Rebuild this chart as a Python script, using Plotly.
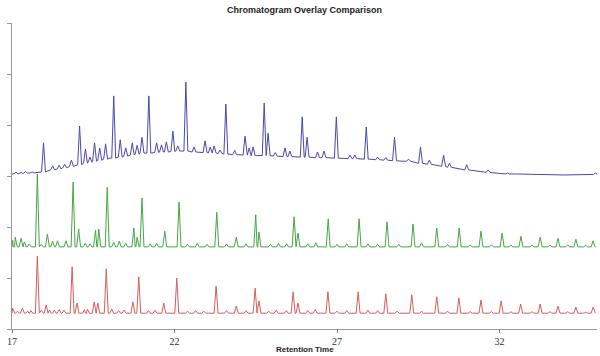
import plotly.graph_objects as go

# ---------------- data ----------------
x_range = [17, 35]
x_ticks = [17, 22, 27, 32]

# Red trace (bottom): flat baseline + peaks (retention time, apex level)
red_baseline = 0.31
red_rt = [17.02, 17.17, 17.32, 17.48, 17.58, 17.78, 17.9, 18.05, 18.15, 18.3, 18.45, 18.6,
          18.85, 19.0, 19.23, 19.32, 19.53, 19.64, 19.9, 20.07, 20.28, 20.45, 20.72, 20.9,
          21.2, 21.4, 21.67, 22.07, 22.4, 22.65, 22.9, 23.28, 23.6, 23.9, 24.2, 24.48, 24.6,
          24.9, 25.13, 25.44, 25.65, 25.8, 26.1, 26.33, 26.72, 27.0, 27.3, 27.65, 27.95,
          28.25, 28.5, 28.85, 29.3, 29.6, 30.07, 30.4, 30.75, 31.1, 31.43, 31.75, 32.05,
          32.35, 32.65, 33.0, 33.25, 33.55, 33.8, 34.1, 34.35, 34.65, 34.88]
red_top = [0.41, 0.35, 0.41, 0.35, 0.36, 1.43, 0.37, 0.47, 0.37, 0.37, 0.38, 0.37,
           1.22, 0.51, 0.38, 0.39, 0.53, 0.51, 1.18, 0.39, 0.36, 0.37, 0.53, 1.02,
           0.36, 0.37, 0.51, 1.00, 0.35, 0.36, 0.35, 0.84, 0.36, 0.45, 0.36, 0.80, 0.55,
           0.35, 0.37, 0.36, 0.73, 0.51, 0.36, 0.38, 0.73, 0.35, 0.36, 0.73, 0.37,
           0.36, 0.69, 0.35, 0.67, 0.35, 0.63, 0.35, 0.61, 0.34, 0.57, 0.34, 0.55,
           0.34, 0.49, 0.34, 0.49, 0.34, 0.45, 0.34, 0.43, 0.33, 0.43]

# Green trace (middle)
green_baseline = 1.61
green_rt = [17.02, 17.1, 17.28, 17.38, 17.53, 17.78, 17.9, 18.09, 18.25, 18.4, 18.66,
            18.88, 19.05, 19.25, 19.4, 19.57, 19.67, 19.93, 20.13, 20.3, 20.5, 20.75, 20.85,
            21.0, 21.25, 21.45, 21.7, 22.14, 22.4, 22.7, 23.0, 23.3, 23.6, 23.9, 24.2, 24.5,
            24.6, 24.95, 25.2, 25.45, 25.68, 25.8, 26.1, 26.35, 26.73, 27.0, 27.3, 27.68,
            27.95, 28.25, 28.54, 28.9, 29.34, 29.6, 30.07, 30.4, 30.76, 31.1, 31.43, 31.75,
            32.08, 32.35, 32.66, 33.0, 33.25, 33.55, 33.8, 34.1, 34.35, 34.65, 34.88]
green_top = [1.74, 1.80, 1.78, 1.71, 1.67, 3.04, 1.66, 1.86, 1.72, 1.73, 1.73,
             2.88, 1.96, 1.68, 1.67, 1.94, 1.96, 2.78, 1.70, 1.72, 1.68, 1.98, 1.80,
             2.57, 1.67, 1.68, 1.92, 2.49, 1.66, 1.68, 1.66, 2.29, 1.67, 1.80, 1.67, 2.24,
             1.90, 1.66, 1.68, 1.67, 2.20, 1.88, 1.67, 1.69, 2.16, 1.66, 1.67, 2.16,
             1.67, 1.66, 2.10, 1.66, 2.06, 1.69, 1.98, 1.66, 1.98, 1.65, 1.92, 1.65,
             1.88, 1.65, 1.82, 1.65, 1.80, 1.65, 1.78, 1.65, 1.76, 1.64, 1.73]

# Blue trace (top): drifting baseline + peaks (retention time, local base, apex)
blue_base_rt = [17.0, 17.5, 18.0, 18.5, 19.0, 19.5, 20.0, 20.5, 21.0, 21.5, 22.0, 22.5,
                23.0, 23.5, 24.0, 25.0, 26.0, 27.0, 28.0, 29.0, 29.5, 30.0, 30.5, 31.0,
                31.5, 32.0, 32.5, 33.0, 34.0, 35.0]
blue_base_level = [3.04, 3.06, 3.08, 3.14, 3.22, 3.29, 3.35, 3.41, 3.45, 3.47, 3.49, 3.47,
                   3.45, 3.43, 3.41, 3.39, 3.37, 3.35, 3.33, 3.29, 3.25, 3.22, 3.18, 3.12,
                   3.08, 3.05, 3.04, 3.03, 3.02, 3.03]
blue_rt = [17.12, 17.28, 17.42, 17.62, 17.97, 18.25, 18.45, 18.62, 18.83, 19.08, 19.26,
           19.4, 19.54, 19.7, 19.88, 20.13, 20.33, 20.5, 20.7, 20.85, 21.0, 21.21, 21.45,
           21.6, 21.75, 21.95, 22.1, 22.35, 22.6, 22.94, 23.1, 23.22, 23.4, 23.58, 23.85,
           24.17, 24.3, 24.42, 24.76, 24.88, 25.1, 25.4, 25.55, 25.93, 26.08, 26.4, 26.6,
           26.98, 27.4, 27.55, 27.9, 28.25, 28.5, 28.77, 29.2, 29.57, 29.84, 30.28, 30.46,
           30.99, 31.65, 32.25, 33.6, 34.95]
blue_peak_base = [3.04, 3.05, 3.05, 3.06, 3.08, 3.12, 3.14, 3.16, 3.19, 3.22, 3.25,
                  3.27, 3.29, 3.31, 3.33, 3.35, 3.37, 3.39, 3.41, 3.43, 3.45, 3.45, 3.46,
                  3.47, 3.47, 3.48, 3.49, 3.49, 3.47, 3.46, 3.45, 3.45, 3.44, 3.43, 3.42,
                  3.41, 3.41, 3.40, 3.40, 3.40, 3.39, 3.38, 3.38, 3.37, 3.37, 3.36, 3.36,
                  3.35, 3.34, 3.34, 3.33, 3.32, 3.31, 3.30, 3.29, 3.25, 3.23, 3.19, 3.17,
                  3.12, 3.07, 3.04, 3.02, 3.03]
blue_top = [3.08, 3.07, 3.09, 3.08, 3.65, 3.20, 3.21, 3.23, 3.31, 3.98, 3.53,
            3.37, 3.65, 3.55, 3.63, 4.57, 3.71, 3.55, 3.65, 3.60, 3.76, 4.57, 3.65,
            3.61, 3.67, 3.88, 3.59, 4.84, 3.57, 3.69, 3.57, 3.59, 3.51, 4.41, 3.50,
            3.78, 3.55, 3.57, 4.43, 3.84, 3.46, 3.55, 3.49, 4.16, 3.76, 3.47, 3.49,
            4.16, 3.41, 3.41, 3.96, 3.37, 3.36, 3.76, 3.33, 3.57, 3.31, 3.41, 3.25,
            3.22, 3.12, 3.06, 3.03, 3.06]

# ---------------- build polylines from the data ----------------
HALF_WIDTH = 0.06


def peak_points(rts, tops, bases):
    pts = []
    for r, t, b in zip(rts, tops, bases):
        pts += [(r - HALF_WIDTH, b), (r, t), (r + HALF_WIDTH, b)]
    return pts


def polyline(pts):
    pts = sorted(pts)
    return [p[0] for p in pts], [p[1] for p in pts]


red_pts = [(x_range[0], red_baseline), (34.95, red_baseline)] + \
    peak_points(red_rt, red_top, [red_baseline] * len(red_rt))
green_pts = [(x_range[0], green_baseline), (34.95, green_baseline)] + \
    peak_points(green_rt, green_top, [green_baseline] * len(green_rt))
blue_pts = [(x, y) for x, y in zip(blue_base_rt, blue_base_level)
            if all(abs(x - r) > HALF_WIDTH for r in blue_rt) and x <= 34.95] + \
    peak_points(blue_rt, blue_top, blue_peak_base)

fig = go.Figure()
for pts, color, name in [(blue_pts, "#4848b2", "Sample A"),
                         (green_pts, "#46a646", "Sample B"),
                         (red_pts, "#d65e5e", "Sample C")]:
    xs, ys = polyline(pts)
    fig.add_trace(go.Scatter(x=xs, y=ys, mode="lines", name=name,
                             line=dict(color=color, width=1), hoverinfo="skip"))

fig.update_layout(
    width=600, height=356,
    margin=dict(l=12, r=3, t=23, b=27),
    paper_bgcolor="white", plot_bgcolor="white",
    showlegend=False,
    title=dict(text="<b>Chromatogram Overlay Comparison</b>",
               font=dict(family="Liberation Sans, Arial", size=9, color="#222"),
               x=0.5, xanchor="center", xref="paper",
               y=1 - 10 / 356, yref="container", yanchor="middle"),
)
fig.update_xaxes(range=x_range, tickvals=x_ticks, ticktext=[str(t) for t in x_ticks],
                 showgrid=False, zeroline=False, showline=True, linecolor="#999",
                 linewidth=1, ticks="outside", ticklen=3, tickcolor="#777",
                 tickfont=dict(family="Liberation Serif, Times New Roman", size=10, color="#333"),
                 automargin=False)
fig.update_yaxes(range=[0, 6], dtick=1, showticklabels=False, showgrid=False,
                 zeroline=False, showline=True, linecolor="#999", linewidth=1,
                 ticks="outside", ticklen=4, tickcolor="#999", automargin=False)
fig.add_annotation(text="<b>Retention Time</b>", xref="paper", yref="paper",
                   x=0.5, y=-20 / 306, xanchor="center", yanchor="middle",
                   showarrow=False,
                   font=dict(family="Liberation Sans, Arial", size=8, color="#222"))

fig.write_html("out.html", config={"displayModeBar": False},
               post_script="document.body.style.margin='0';document.body.style.padding='0';")
